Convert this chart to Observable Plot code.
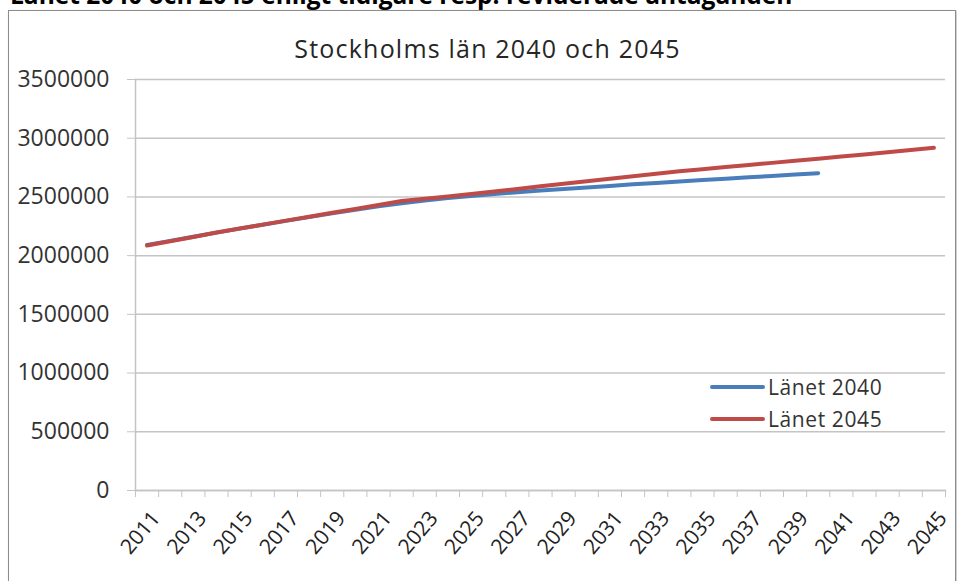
<!DOCTYPE html>
<html><head><meta charset="utf-8">
<script src="https://cdn.jsdelivr.net/npm/d3@7"></script>
<script src="https://cdn.jsdelivr.net/npm/@observablehq/plot@0.6"></script>
<style>
body{margin:0;background:#fff;width:957px;height:581px;overflow:hidden;position:relative;font-family:"Open Sans",sans-serif;}
#heading{position:absolute;left:10px;top:-17px;font-weight:bold;font-size:24.5px;line-height:24px;color:#000;white-space:nowrap;}
#frame{position:absolute;left:8px;top:10px;width:946px;height:640px;border:1.5px solid #8c8c8c;box-shadow:1px 1px 2px #bbb;}
#title{position:absolute;left:9px;width:957px;top:31px;text-align:center;font-size:25px;letter-spacing:1.2px;color:#262626;}
#chart{position:absolute;left:0;top:0;}
#legend{position:absolute;left:710px;top:371px;font-size:21px;letter-spacing:0.6px;color:#333;}
#legend .row{display:flex;align-items:center;height:32px;}
#legend .sw{width:55px;height:4px;border-radius:2px;margin-right:3px;}
</style>
</head><body>
<div id="heading">Länet 2040 och 2045 enligt tidigare resp. reviderade antaganden</div>
<div id="frame"></div>
<div id="chart"></div>
<div id="title">Stockholms län 2040 och 2045</div>
<div id="legend"></div>
<script>
const years = [2011,2012,2013,2014,2015,2016,2017,2018,2019,2020,2021,2022,2023,2024,2025,2026,2027,2028,2029,2030,2031,2032,2033,2034,2035,2036,2037,2038,2039,2040,2041,2042,2043,2044,2045];
const lanet2040 = [2091000,2126000,2161000,2196000,2230000,2263000,2296000,2328000,2360000,2391000,2420000,2447000,2470000,2490000,2508000,2525000,2540000,2554000,2568000,2581000,2594000,2607000,2619000,2632000,2644000,2655000,2667000,2679000,2690000,2702000];
const lanet2045 = [2086000,2122000,2159000,2197000,2231000,2264000,2298000,2331000,2365000,2398000,2432000,2465000,2484000,2503000,2524000,2546000,2568000,2590000,2612000,2634000,2655000,2676000,2697000,2718000,2736000,2754000,2772000,2790000,2808000,2826000,2844000,2862000,2880000,2899000,2918000];
const yTicks = [0,500000,1000000,1500000,2000000,2500000,3000000,3500000];
const xLabels = [2011,2013,2015,2017,2019,2021,2023,2025,2027,2029,2031,2033,2035,2037,2039,2041,2043,2045];
const seriesNames = ["Länet 2040","Länet 2045"];
const seriesColors = ["#4a7ebb","#be4b48"];

const rows = [];
lanet2040.forEach((v,i)=>rows.push({year:years[i], value:v, series:seriesNames[0]}));
lanet2045.forEach((v,i)=>rows.push({year:years[i], value:v, series:seriesNames[1]}));
const bounds = years.map(y=>y-0.5).concat([years[years.length-1]+0.5]);

const chart = Plot.plot({
  width:957, height:581,
  marginLeft:135, marginRight:12, marginTop:79, marginBottom:91,
  style:{fontFamily:'"Open Sans",sans-serif', background:"transparent"},
  x:{type:"linear", domain:[bounds[0], bounds[bounds.length-1]]},
  y:{domain:[0,3500000]},
  color:{domain:seriesNames, range:seriesColors},
  marks:[
    Plot.gridY(yTicks,{stroke:"#c4c4c4", strokeOpacity:1, strokeWidth:1.5}),
    Plot.frame({anchor:"left", stroke:"#c4c4c4", strokeWidth:1.5}),
    Plot.frame({anchor:"bottom", stroke:"#c4c4c4", strokeWidth:1.5}),
    Plot.axisY({ticks:yTicks, tickSize:8, tickPadding:18, tickFormat:d=>String(d), fontSize:23, stroke:"#c4c4c4", fill:"#333", label:null}),
    Plot.axisX({ticks:bounds, tickSize:7, tickFormat:()=>"", stroke:"#c4c4c4", label:null}),
    Plot.axisX({ticks:xLabels, tickSize:0, tickPadding:24, tickRotate:-50, fontSize:21, fill:"#222", dx:9, tickFormat:d=>String(d), label:null}),
    Plot.lineY(rows,{x:"year", y:"value", z:"series", stroke:"series", strokeWidth:4, strokeLinecap:"round", strokeLinejoin:"round"})
  ]
});
document.getElementById("chart").appendChild(chart);

const lg = document.getElementById("legend");
seriesNames.forEach((n,i)=>{
  const r = document.createElement("div"); r.className="row";
  const s = document.createElement("div"); s.className="sw"; s.style.background=seriesColors[i];
  const t = document.createElement("span"); t.textContent=n;
  r.appendChild(s); r.appendChild(t); lg.appendChild(r);
});
</script>
</body></html>
